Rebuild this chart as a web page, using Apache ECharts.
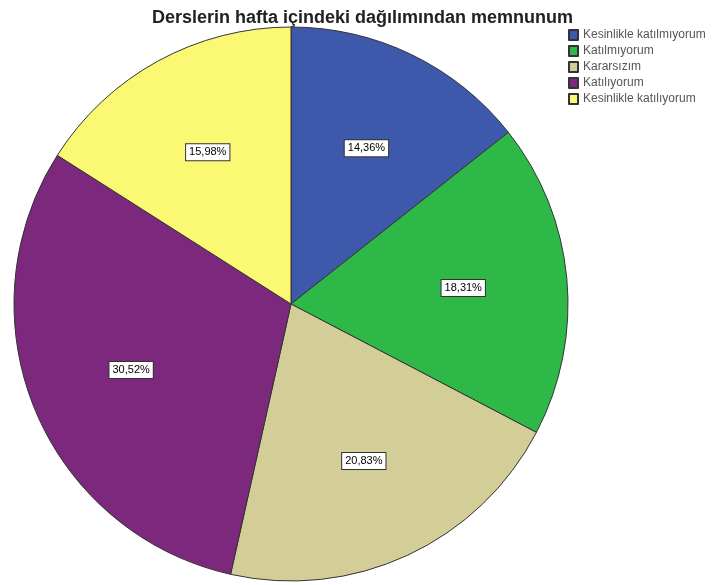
<!DOCTYPE html>
<html>
<head>
<meta charset="utf-8">
<script src="https://cdn.jsdelivr.net/npm/echarts@6/dist/echarts.min.js"></script>
<style>
  html, body { margin: 0; padding: 0; background: #fff; }
  #chart { width: 725px; height: 585px; }
</style>
</head>
<body>
<div id="chart"></div>
<script>
// answer categories and their shares (%)
var categories = ['Kesinlikle katılmıyorum', 'Katılmıyorum', 'Kararsızım', 'Katılıyorum', 'Kesinlikle katılıyorum'];
var values = [14.36, 18.31, 20.83, 30.52, 15.98];
var colors = ['#3e58ac', '#2eb848', '#d3ce97', '#7c287d', '#fbf873'];

var myChart = echarts.init(document.getElementById('chart'));

var pieData = categories.map(function (name, i) {
  return { name: name, value: values[i], itemStyle: { color: colors[i] } };
});

var option = {
  animation: false,
  title: {
    text: 'Derslerin hafta içindeki dağılımından memnunum',
    left: 'center',
    top: 4,
    textStyle: { fontFamily: 'Liberation Sans', fontSize: 18, fontWeight: 'bold', color: '#222' }
  },
  legend: {
    orient: 'vertical',
    left: 563,
    top: 24,
    itemWidth: 9,
    itemHeight: 10,
    itemGap: 4,
    icon: 'rect',
    textStyle: { fontFamily: 'Liberation Sans', fontSize: 12, color: '#555', padding: [0, 0, 0, 0] },
    data: categories
  },
  series: [
    {
      type: 'pie',
      center: [291, 304],
      radius: 277,
      startAngle: 90,
      clockwise: true,
      silent: true,
      itemStyle: { borderColor: '#333', borderWidth: 1 },
      label: { show: false },
      labelLine: { show: false },
      data: pieData
    },
    {
      // transparent ring only used to place the percentage labels
      type: 'pie',
      center: [291, 304],
      radius: [90, 250],
      startAngle: 90,
      clockwise: true,
      silent: true,
      itemStyle: { color: 'rgba(0,0,0,0)' },
      label: {
        show: true,
        position: 'inner',
        formatter: function (p) { return p.value.toFixed(2).replace('.', ',') + '%'; },
        fontFamily: 'Liberation Sans',
        fontSize: 11,
        color: '#000',
        backgroundColor: '#fff',
        borderColor: '#333',
        borderWidth: 1,
        padding: [3, 3, 2, 3]
      },
      labelLine: { show: false },
      data: categories.map(function (name, i) { return { name: name, value: values[i] }; })
    }
  ]
};

myChart.setOption(option);
window.onresize = myChart.resize;
</script>
</body>
</html>
